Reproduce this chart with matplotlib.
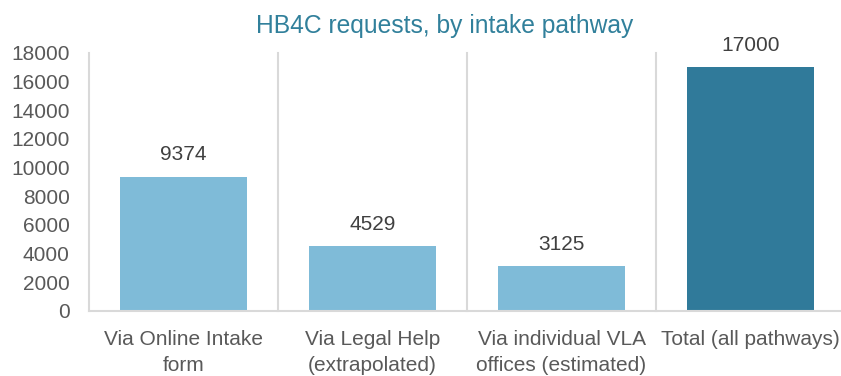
import matplotlib
matplotlib.use("Agg")
import matplotlib.pyplot as plt

categories = ["Via Online Intake\nform", "Via Legal Help\n(extrapolated)",
              "Via individual VLA\noffices (estimated)", "Total (all pathways)"]
values = [9374, 4529, 3125, 17000]
bar_colors = ["#7fbbd8", "#7fbbd8", "#7fbbd8", "#307a9a"]
yticks = [0, 2000, 4000, 6000, 8000, 10000, 12000, 14000, 16000, 18000]

plt.rcParams["font.family"] = ["Liberation Sans", "DejaVu Sans"]

fig = plt.figure(figsize=(8.41, 3.76), dpi=100)
ax = fig.add_axes([89 / 841, 1 - 311 / 376, 756 / 841, (311 - 53) / 376])

x = range(len(values))
ax.bar(x, values, width=0.667, color=bar_colors, zorder=2)
for xi, v in zip(x, values):
    ax.annotate(str(v), (xi, v), xytext=(0, 9), textcoords="offset points",
                ha="center", va="bottom", fontsize=15, color="#404040")

ax.set_xlim(-0.5, len(values) - 0.5)
ax.set_ylim(0, 18000)
ax.set_yticks(yticks)
ax.set_yticklabels([str(t) for t in yticks])
ax.set_xticks(list(x))
ax.set_xticklabels(categories, fontsize=15, color="#595959", linespacing=1.42)
ax.tick_params(axis="y", labelsize=15, labelcolor="#595959", length=0, pad=14)
ax.tick_params(axis="x", length=0, pad=14)

# category separators
for b in [i - 0.5 for i in range(len(values) + 1)]:
    ax.axvline(b, color="#d9d9d9", lw=1.5, zorder=1, clip_on=False)

for s in ["top", "right", "left"]:
    ax.spines[s].set_visible(False)
ax.spines["bottom"].set_color("#d9d9d9")
ax.spines["bottom"].set_linewidth(1.5)

fig.text(445 / 841, 1 - 26 / 376, "HB4C requests, by intake pathway", ha="center",
         va="center", fontsize=17.7, color="#31809b")

fig.savefig("out.png", dpi=100)
